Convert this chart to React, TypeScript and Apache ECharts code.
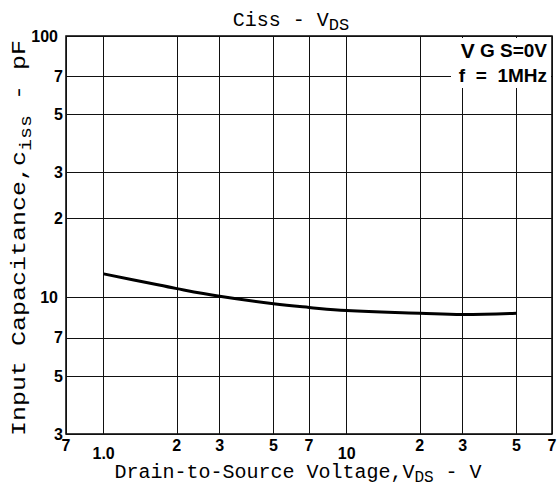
import React, { useEffect, useRef } from "react";
import * as echarts from "echarts";

// Tick positions and their printed labels
const xTicks = [0.7, 1, 2, 3, 5, 7, 10, 20, 30, 50, 70];
const xTickLabels = ["7", "1.0", "2", "3", "5", "7", "10", "2", "3", "5", "7"];
const yTicks = [3, 5, 7, 10, 20, 30, 50, 70, 100];
const yTickLabels = ["3", "5", "7", "10", "2", "3", "5", "7", "100"];

// Curve: Ciss (pF) vs VDS (V)
const vds = [1, 1.5, 2, 3, 5, 7, 10, 20, 30, 50];
const ciss = [12.3, 11.4, 10.8, 10.1, 9.45, 9.15, 8.9, 8.7, 8.6, 8.7];

const MONO = "'Liberation Mono', 'DejaVu Sans Mono', monospace";
const NUM = "'Liberation Sans', Arial, sans-serif";

export default function App() {
  const ref = useRef<HTMLDivElement>(null);
  useEffect(() => {
    document.body.style.margin = "0";
    if (!ref.current) return;
    const chart = echarts.init(ref.current, null, { renderer: "svg" });
    const majorX = new Set([1, 10]);
    const vLines = xTicks.map((v, i) => ({
      xAxis: v,
      name: xTickLabels[i],
      label: { distance: majorX.has(v) ? 11 : 3 },
    }));
    const hLines = yTicks.map((v, i) => ({
      yAxis: v,
      name: yTickLabels[i],
      label: { distance: v === 10 || v === 100 ? 8 : 3 },
    }));
    const lineStyle = { type: "solid", color: "#111", width: 1 };

    // x-axis title pieces (monospace: 0.6em per character)
    const xt1 = "Drain-to-Source Voltage,V";
    const xt2 = "DS";
    const xt3 = " - V";
    const w1 = xt1.length * 12;
    const w2 = xt2.length * 9.6;
    const w3 = xt3.length * 12;
    const xStart = 298 - (w1 + w2 + w3) / 2;
    const xtY = 472;

    const option: any = {
      animation: false,
      backgroundColor: "#fff",
      grid: {
        left: 66,
        right: 8,
        top: 36,
        bottom: 54,
        show: true,
        borderColor: "#000",
        borderWidth: 1.5,
        backgroundColor: "transparent",
      },
      xAxis: {
        type: "log",
        logBase: 10,
        min: 0.7,
        max: 70,
        axisLine: { show: false },
        axisTick: { show: false },
        axisLabel: { show: false },
        splitLine: { show: false },
      },
      yAxis: {
        type: "log",
        logBase: 10,
        min: 3,
        max: 100,
        axisLine: { show: false },
        axisTick: { show: false },
        axisLabel: { show: false },
        splitLine: { show: false },
      },
      series: [
        {
          type: "line",
          data: [],
          silent: true,
          markLine: {
            silent: true,
            symbol: ["none", "none"],
            lineStyle,
            emphasis: { disabled: true },
            label: {
              show: true,
              position: "start",
              formatter: "{b}",
              color: "#000",
              fontFamily: NUM,
              fontWeight: "bold",
              fontSize: 16,
            },
            data: [...vLines, ...hLines],
          },
        },
        {
          type: "line",
          data: vds.map((v, i) => [v, ciss[i]]),
          smooth: 0.4,
          showSymbol: false,
          silent: true,
          z: 6,
          lineStyle: { color: "#000", width: 3 },
        },
      ],
      graphic: [
        {
          type: "rect",
          z: 100,
          shape: { x: 451, y: 38, width: 100, height: 50 },
          style: { fill: "#fff" },
        },
        {
          type: "text",
          z: 101,
          style: {
            x: 547,
            y: 50,
            text: "{v|V} G S=0V",
            align: "right",
            verticalAlign: "middle",
            font: `bold 19px ${NUM}`,
            fill: "#000",
            rich: { v: { fontSize: 21, fontWeight: "bold", fontFamily: NUM, fill: "#000" } },
          },
        },
        {
          type: "text",
          z: 101,
          style: {
            x: 547,
            y: 75,
            text: "f  =  1MHz",
            align: "right",
            verticalAlign: "middle",
            font: `bold 19px ${NUM}`,
            fill: "#000",
          },
        },
        {
          type: "text",
          z: 101,
          style: {
            x: 291,
            y: 20,
            text: "{m|Ciss - V}{sub|DS}",
            align: "center",
            verticalAlign: "middle",
            fill: "#000",
            rich: {
              m: { fontSize: 20, fontFamily: MONO, fill: "#000", lineHeight: 28 },
              sub: { fontSize: 17, fontFamily: MONO, fill: "#000", verticalAlign: "bottom", lineHeight: 17 },
            },
          },
        },
        {
          type: "text",
          z: 101,
          style: { x: xStart, y: xtY, text: xt1, align: "left", verticalAlign: "middle", font: `20px ${MONO}`, fill: "#000" },
        },
        {
          type: "text",
          z: 101,
          style: { x: xStart + w1, y: xtY + 6, text: xt2, align: "left", verticalAlign: "middle", font: `16px ${MONO}`, fill: "#000" },
        },
        {
          type: "text",
          z: 101,
          style: { x: xStart + w1 + w2, y: xtY, text: xt3, align: "left", verticalAlign: "middle", font: `20px ${MONO}`, fill: "#000" },
        },
        {
          type: "text",
          z: 101,
          x: 20,
          y: 238,
          rotation: Math.PI / 2,
          scaleX: 1.25,
          style: {
            x: 0,
            y: 0,
            text: "{m|Input Capacitance,c}{s|iss}{m| - pF}",
            align: "center",
            verticalAlign: "middle",
            fill: "#000",
            rich: {
              m: { fontSize: 20, fontFamily: MONO, fill: "#000", lineHeight: 30 },
              s: { fontSize: 16, fontFamily: MONO, fill: "#000", lineHeight: 16, verticalAlign: "bottom" },
            },
          },
        },
      ],
    };
    chart.setOption(option);
    return () => chart.dispose();
  }, []);
  return <div ref={ref} style={{ width: 560, height: 488 }} />;
}
